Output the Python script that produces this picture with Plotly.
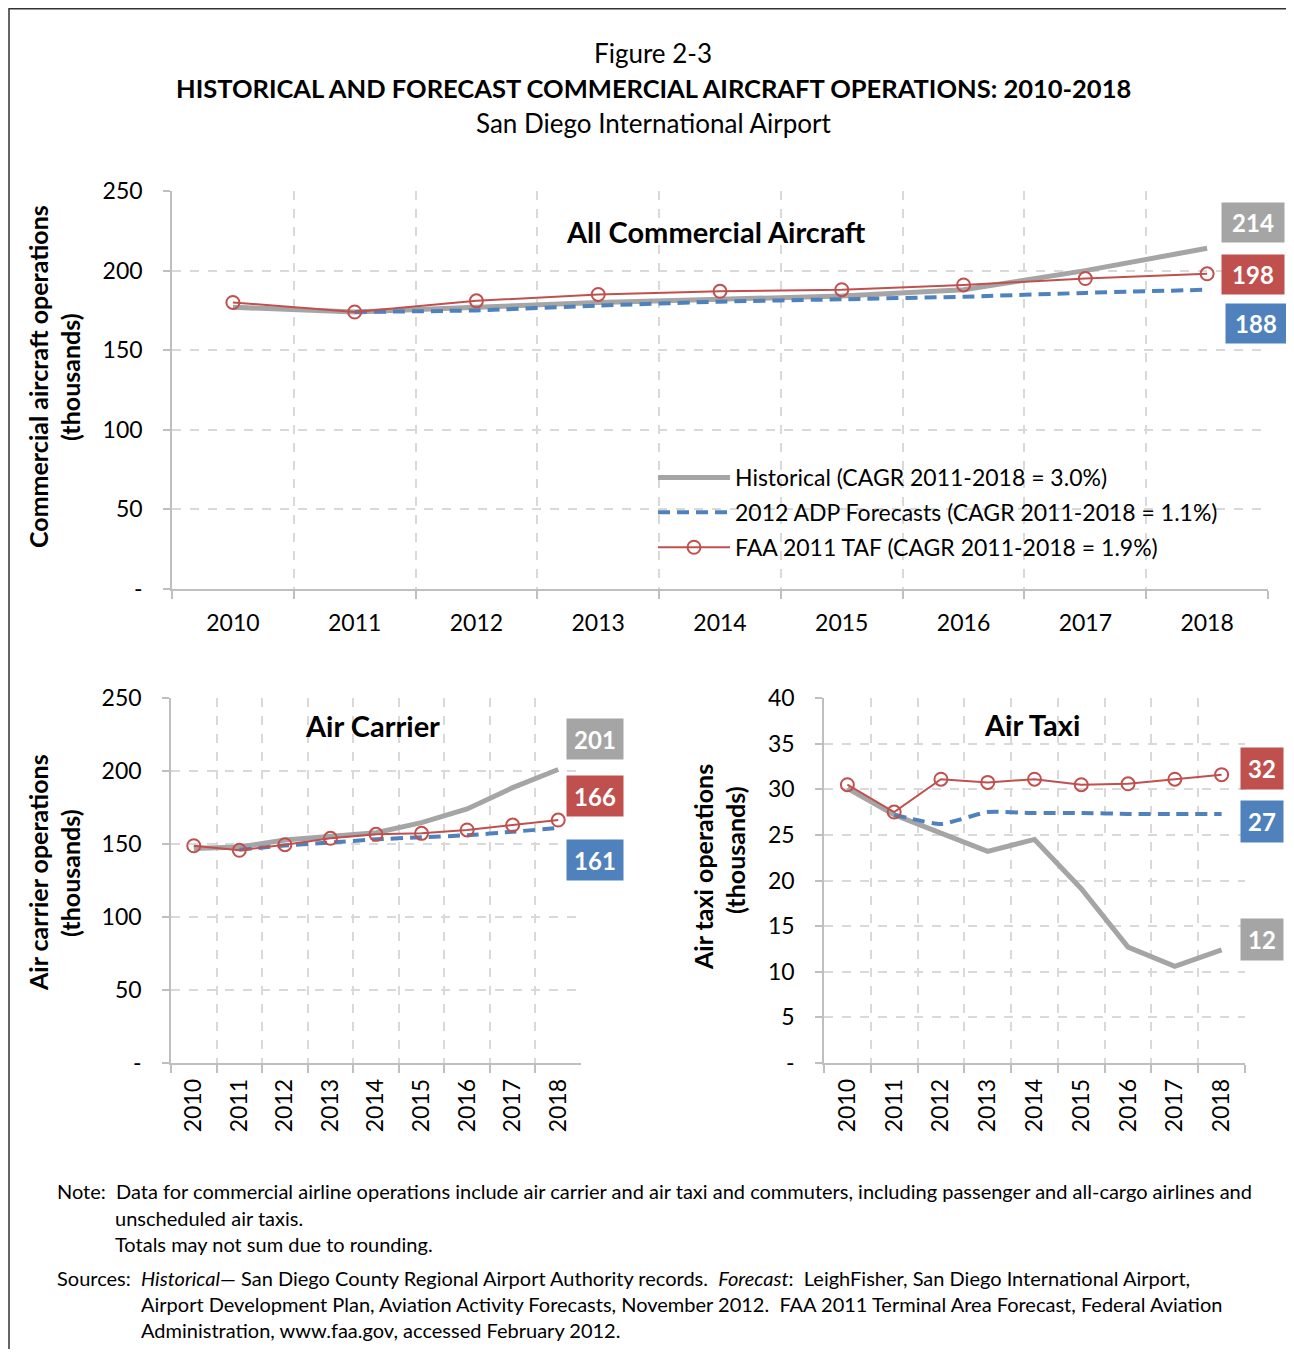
import plotly.graph_objects as go

# page body has an 8px margin; size the figure so the page does not scroll
W, H = 1278, 1341
OFF = 8
FONT = "Lato"

years = ["2010", "2011", "2012", "2013", "2014", "2015", "2016", "2017", "2018"]
fc_years = years[1:]

# All commercial aircraft (thousands)
all_hist = [177, 174, 177, 180, 182, 184, 188, 200, 214]
all_adp = [174, 175, 178, 180.5, 182, 183.6, 186, 188]
all_faa = [180, 174, 181, 185, 187, 188, 191, 195, 198]

# Air carrier (thousands)
ac_hist = [147, 148, 152.7, 155.5, 157.7, 164.6, 174, 188.6, 201]
ac_adp = [146, 149, 151, 153.2, 154.6, 156, 158.4, 161]
ac_faa = [148.8, 145.7, 149.5, 153.9, 156.6, 157.3, 159.6, 163, 166.4]

# Air taxi (thousands)
at_hist = [30.1, 27.2, 25.2, 23.2, 24.5, 19.1, 12.7, 10.6, 12.4]
at_adp = [27.2, 26.2, 27.5, 27.4, 27.4, 27.3, 27.3, 27.3]
at_faa = [30.5, 27.5, 31.1, 30.75, 31.1, 30.5, 30.6, 31.1, 31.6]

y_ticks_big = [0, 50, 100, 150, 200, 250]
y_ticks_taxi = [0, 5, 10, 15, 20, 25, 30, 35, 40]

legend_names = [
    "Historical (CAGR 2011-2018 = 3.0%)",
    "2012 ADP Forecasts (CAGR 2011-2018 = 1.1%)",
    "FAA 2011 TAF (CAGR 2011-2018 = 1.9%)",
]

GRAY = "#a5a5a5"
BLUE = "#4f81bd"
RED = "#c0504d"


def px(x):
    return (x - OFF) / W


def py(y):
    return 1 - (y - OFF) / H


fig = go.Figure()


def add_set(hist, adp, faa, xa, ya, show):
    fig.add_trace(go.Scatter(x=years, y=hist, mode="lines", name=legend_names[0],
                             line=dict(color=GRAY, width=5), xaxis=xa, yaxis=ya,
                             showlegend=show, legendgroup="h" if show else None))
    fig.add_trace(go.Scatter(x=fc_years, y=adp, mode="lines", name=legend_names[1],
                             line=dict(color=BLUE, width=4, dash="12px,7px", shape="spline", smoothing=0.5),
                             xaxis=xa, yaxis=ya, showlegend=show, legendgroup="a" if show else None))
    fig.add_trace(go.Scatter(x=years, y=faa, mode="lines+markers", name=legend_names[2],
                             line=dict(color=RED, width=2),
                             marker=dict(symbol="circle-open", size=13, color=RED, line=dict(width=2, color=RED)),
                             xaxis=xa, yaxis=ya, showlegend=show, legendgroup="f" if show else None))


add_set(all_hist, all_adp, all_faa, "x", "y", True)
add_set(ac_hist, ac_adp, ac_faa, "x2", "y2", False)
add_set(at_hist, at_adp, at_faa, "x3", "y3", False)

axis_common = dict(
    showline=True, linecolor="#bfbfbf", linewidth=1.5,
    ticks="outside", tickcolor="#bfbfbf", tickwidth=1.5,
    showgrid=True, gridcolor="#d9d9d9", griddash="dash", gridwidth=1.5,
    tickfont=dict(family=FONT, size=23, color="#000"), zeroline=False,
    automargin=False,
)

xcommon = dict(axis_common, type="category", tickson="boundaries", ticklen=8,
               range=[-0.5, 8.5], categoryorder="array", categoryarray=years)


def ytext(vals):
    return ["-" if v == 0 else str(v) for v in vals]


top_y = (py(589), py(191))
bot_y = (py(1063), py(698))

fig.update_layout(
    width=W, height=H,
    margin=dict(l=0, r=0, t=0, b=0, pad=0, autoexpand=False),
    paper_bgcolor="white", plot_bgcolor="white",
    font=dict(family=FONT, color="#000"),
    xaxis=dict(xcommon, domain=[px(172), px(1268)], anchor="y", ticklabelstandoff=13),
    yaxis=dict(axis_common, domain=list(top_y), anchor="x", range=[0, 250],
               tickvals=y_ticks_big, ticktext=ytext(y_ticks_big), ticklen=7, ticklabelstandoff=16),
    xaxis2=dict(xcommon, domain=[px(171), px(581)], anchor="y2", tickangle=-90, ticklabelstandoff=5),
    yaxis2=dict(axis_common, domain=list(bot_y), anchor="x2", range=[0, 250],
                tickvals=y_ticks_big, ticktext=ytext(y_ticks_big), ticklen=7, ticklabelstandoff=16),
    xaxis3=dict(xcommon, domain=[px(824), px(1245)], anchor="y3", tickangle=-90, ticklabelstandoff=5),
    yaxis3=dict(axis_common, domain=list(bot_y), anchor="x3", range=[0, 40],
                tickvals=y_ticks_taxi, ticktext=ytext(y_ticks_taxi), ticklen=7, ticklabelstandoff=16),
    legend=dict(x=px(653), y=py(456), xanchor="left", yanchor="top",
                bgcolor="rgba(0,0,0,0)", font=dict(family=FONT, size=23, color="#000"),
                itemwidth=72, tracegroupgap=2, traceorder="grouped"),
    showlegend=True,
)

ann = []


def text(x, y, s, size, anchor="center", angle=0):
    ann.append(dict(x=px(x), y=py(y), xref="paper", yref="paper", text=s, showarrow=False,
                    xanchor=anchor, yanchor="middle", textangle=angle,
                    font=dict(family=FONT, size=size, color="#000")))


# Titles
text(653, 53, "Figure 2-3", 26)
text(653, 88, "<b>HISTORICAL AND FORECAST COMMERCIAL AIRCRAFT OPERATIONS: 2010-2018</b>", 25.5)
text(653, 123, "San Diego International Airport", 26)

# Subplot titles
text(716, 231, "<b>All Commercial Aircraft</b>", 29)
text(372, 725, "<b>Air Carrier</b>", 29)
text(1032, 724, "<b>Air Taxi</b>", 29)

# Axis titles
text(38, 377, "<b>Commercial aircraft operations</b>", 25, angle=-90)
text(70, 377, "<b>(thousands)</b>", 25, angle=-90)
text(38, 873, "<b>Air carrier operations</b>", 25, angle=-90)
text(70, 873, "<b>(thousands)</b>", 25, angle=-90)
text(703, 867, "<b>Air taxi operations</b>", 25, angle=-90)
text(735, 850, "<b>(thousands)</b>", 25, angle=-90)


def box(x, y, val, color, w, h):
    ann.append(dict(x=px(x), y=py(y), xref="paper", yref="paper", text=f"<b>{val:.0f}</b>",
                    showarrow=False, xanchor="center", yanchor="middle", bgcolor=color,
                    width=w, height=h, borderpad=2,
                    font=dict(family=FONT, size=24, color="white")))


box(1253, 222, all_hist[-1], GRAY, 58, 35)
box(1253, 274, all_faa[-1], RED, 58, 35)
box(1256, 324, all_adp[-1], BLUE, 56, 35)
box(595, 739, ac_hist[-1], GRAY, 52, 36)
box(595, 796, ac_faa[-1], RED, 52, 36)
box(595, 860, ac_adp[-1], BLUE, 52, 36)
box(1262, 768, at_faa[-1], RED, 38, 37)
box(1262, 821, at_adp[-1], BLUE, 38, 37)
box(1262, 939, at_hist[-1], GRAY, 38, 37)

# Notes
NS = 20
text(55, 1191, "Note:  Data for commercial airline operations include air carrier and air taxi and commuters, including passenger and all-cargo airlines and", NS, anchor="left")
text(113, 1218, "unscheduled air taxis.", NS, anchor="left")
text(113, 1244, "Totals may not sum due to rounding.", NS, anchor="left")
text(55, 1278, "Sources:  <i>Historical</i>\u2014 San Diego County Regional Airport Authority records.  <i>Forecast</i>:  LeighFisher, San Diego International Airport,", NS, anchor="left")
text(139, 1304, "Airport Development Plan, Aviation Activity Forecasts, November 2012.  FAA 2011 Terminal Area Forecast, Federal Aviation", NS, anchor="left")
text(139, 1330, "Administration, www.faa.gov, accessed February 2012.", NS, anchor="left")

fig.update_layout(annotations=ann)

# Outer border (top/left edges visible, right/bottom run off the page)
fig.add_shape(type="rect", xref="paper", yref="paper", x0=px(9), y0=-0.05, x1=1.05, y1=1 - 0.75 / H,
              line=dict(color="#333333", width=1.5), fillcolor="rgba(0,0,0,0)", layer="below")

fig.write_html("out.html")
